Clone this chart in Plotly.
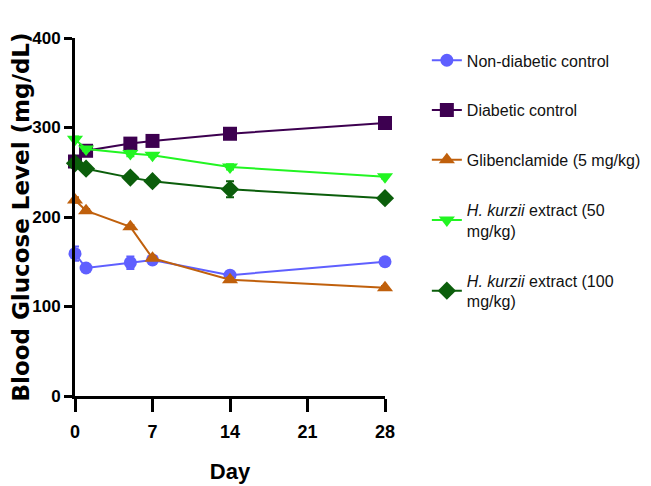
import plotly.graph_objects as go

days = [0, 1, 5, 7, 14, 28]

series_names = [
    "Non-diabetic control",
    "Diabetic control",
    "Glibenclamide (5 mg/kg)",
    "<i>H. kurzii</i> extract (50<br>mg/kg)",
    "<i>H. kurzii</i> extract (100<br>mg/kg)",
]
non_diabetic = [159, 143, 149, 152, 135, 150]
non_diabetic_err = [8, 3, 7, 4, 3, 2]
diabetic = [262, 274, 282, 285, 293, 305]
diabetic_err = [4, 3, 3, 3, 2, 2]
glibenclamide = [219, 207, 189, 154, 130, 121]
glibenclamide_err = [3, 2, 2, 2, 2, 2]
kurzii_50 = [287, 276, 271, 269, 256, 245]
kurzii_50_err = [3, 2, 3, 2, 3, 2]
kurzii_100 = [260, 254, 244, 240, 231, 221]
kurzii_100_err = [2, 2, 2, 2, 9, 2]

values = [non_diabetic, diabetic, glibenclamide, kurzii_50, kurzii_100]
errors = [non_diabetic_err, diabetic_err, glibenclamide_err, kurzii_50_err, kurzii_100_err]
colors = ["#5F5FFF", "#3D0050", "#C0600C", "#22F522", "#0B5E0B"]
symbols = ["circle", "square", "triangle-up", "triangle-down", "diamond"]
sizes = [13, 14, 14, 14, 14]

x_ticks = [0, 7, 14, 21, 28]
y_ticks = [0, 100, 200, 300, 400]

FONT = "Liberation Sans, Arial"

fig = go.Figure()
for i in range(5):
    fig.add_trace(go.Scatter(
        x=days, y=values[i], name=series_names[i],
        mode="lines+markers",
        line=dict(color=colors[i], width=2),
        marker=dict(color=colors[i], symbol=symbols[i], size=sizes[i]),
        error_y=dict(type="data", array=errors[i], color=colors[i], thickness=2, width=4),
        cliponaxis=False,
        legendgroup=f"g{i}",
    ))

fig.update_layout(
    width=643, height=478,
    margin=dict(l=67, r=266, t=30, b=90, autoexpand=False),
    plot_bgcolor="white", paper_bgcolor="white",
    font=dict(family=FONT, color="#111111"),
    legend=dict(
        x=1.135, y=0.985, xanchor="left", yanchor="top",
        font=dict(family=FONT, size=16, color="#111111"),
        tracegroupgap=26,
        bgcolor="rgba(0,0,0,0)",
    ),
    xaxis=dict(
        range=[0, 28], tickvals=x_ticks, ticktext=[str(v) for v in x_ticks],
        showgrid=False, zeroline=False, automargin=False,
        showline=True, linecolor="black", linewidth=3,
        ticks="outside", ticklen=13, tickwidth=3, tickcolor="black",
        ticklabelstandoff=4,
        tickfont=dict(family=FONT, size=18, color="black", weight="bold"),
        title=dict(text="<b>Day</b>", font=dict(family=FONT, size=22, color="black"), standoff=24),
    ),
    yaxis=dict(
        range=[0, 400], tickvals=y_ticks, ticktext=[str(v) for v in y_ticks],
        showgrid=False, zeroline=False, automargin=False,
        showline=True, linecolor="black", linewidth=3,
        ticks="outside", ticklen=8, tickwidth=3, tickcolor="black",
        tickfont=dict(family=FONT, size=17, color="black", weight="bold"),
        title=dict(text="<b>Blood Glucose Level (mg/dL)</b>",
                   font=dict(family="DejaVu Sans", size=23, color="black"), standoff=6),
    ),
)

fig.write_html("out.html")
